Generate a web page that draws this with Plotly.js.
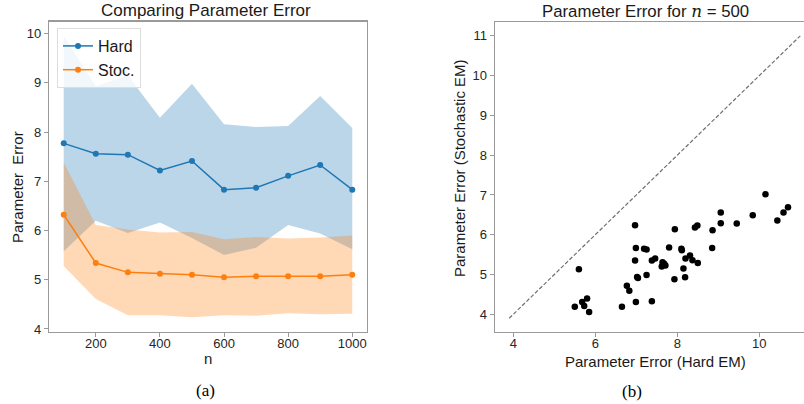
<!DOCTYPE html>
<html>
<head>
<meta charset="utf-8">
<script src="https://cdn.plot.ly/plotly-3.0.1.min.js"></script>
<style>
html,body{margin:0;padding:0;overflow:hidden;background:#fff;width:804px;height:404px;}
#chart{width:830px;height:404px;}
</style>
</head>
<body>
<div id="chart"></div>
<script>
// ---- Panel (a) data ----
const nValues   = [100, 200, 300, 400, 500, 600, 700, 800, 900, 1000];
const hardMean  = [7.77, 7.56, 7.54, 7.22, 7.41, 6.83, 6.87, 7.11, 7.33, 6.83];
const hardUpper = [9.95, 8.93, 9.15, 8.29, 8.98, 8.16, 8.10, 8.12, 8.73, 8.08];
const hardLower = [5.58, 6.20, 5.95, 6.16, 5.85, 5.50, 5.65, 6.11, 5.94, 5.62];
const stocMean  = [6.32, 5.34, 5.15, 5.12, 5.10, 5.05, 5.07, 5.07, 5.07, 5.10];
const stocUpper = [7.38, 6.11, 6.02, 5.96, 5.97, 5.82, 5.87, 5.84, 5.86, 5.90];
const stocLower = [5.28, 4.61, 4.28, 4.28, 4.24, 4.28, 4.27, 4.32, 4.30, 4.31];

// ---- Panel (b) data (n = 500) ----
const hardEM500 = [5.60, 5.50, 5.68, 5.73, 5.80, 5.85, 6.65, 6.77, 6.83, 6.97, 6.99, 6.97,
                   7.02, 7.04, 6.99, 7.19, 7.25, 7.25, 7.38, 7.46, 7.38, 7.62, 7.64, 7.68,
                   7.71, 7.80, 7.94, 7.93, 8.10, 8.11, 8.15, 8.19, 8.20, 8.31, 8.37, 8.43,
                   8.49, 8.50, 8.86, 8.85, 9.06, 9.06, 9.45, 9.84, 10.15, 10.44, 10.59, 10.70];
const stocEM500 = [5.13, 4.19, 4.31, 4.21, 4.40, 4.06, 4.19, 4.72, 4.59, 6.24, 5.67, 5.35,
                   4.94, 4.91, 4.31, 5.65, 5.63, 4.99, 5.35, 5.40, 4.33, 5.20, 5.31, 5.27,
                   5.23, 5.68, 6.14, 4.88, 5.65, 5.61, 5.15, 4.93, 5.40, 5.48, 5.36, 6.18,
                   6.23, 5.29, 6.11, 5.67, 6.56, 6.29, 6.28, 6.49, 7.02, 6.36, 6.56, 6.69];
const diagLine  = [3.9, 11];

const xTicksA = [200, 400, 600, 800, 1000];
const yTicksA = [4, 5, 6, 7, 8, 9, 10];
const xTicksB = [4, 6, 8, 10];
const yTicksB = [4, 5, 6, 7, 8, 9, 10, 11];

const BLUE = '#1f77b4', ORANGE = '#ff7f0e';
const W = 830, H = 404;
const px = v => v / W;
const py = v => 1 - v / H;
const SANS = '"Liberation Sans", Arial, sans-serif';
const SERIF = '"Liberation Serif", "Times New Roman", serif';

const traces = [
  {x: nValues, y: hardLower, mode: 'lines', line: {width: 0, color: BLUE}, showlegend: false, hoverinfo: 'skip', xaxis: 'x', yaxis: 'y'},
  {x: nValues, y: hardUpper, mode: 'lines', line: {width: 0, color: BLUE}, fill: 'tonexty', fillcolor: 'rgba(31,119,180,0.3)', showlegend: false, hoverinfo: 'skip', xaxis: 'x', yaxis: 'y'},
  {x: nValues, y: stocLower, mode: 'lines', line: {width: 0, color: ORANGE}, showlegend: false, hoverinfo: 'skip', xaxis: 'x', yaxis: 'y'},
  {x: nValues, y: stocUpper, mode: 'lines', line: {width: 0, color: ORANGE}, fill: 'tonexty', fillcolor: 'rgba(255,127,14,0.3)', showlegend: false, hoverinfo: 'skip', xaxis: 'x', yaxis: 'y'},
  {x: nValues, y: hardMean, name: 'Hard', mode: 'lines+markers', line: {color: BLUE, width: 1.5}, marker: {color: BLUE, size: 6}, xaxis: 'x', yaxis: 'y'},
  {x: nValues, y: stocMean, name: 'Stoc.', mode: 'lines+markers', line: {color: ORANGE, width: 1.5}, marker: {color: ORANGE, size: 6}, xaxis: 'x', yaxis: 'y'},
  {x: diagLine, y: diagLine, mode: 'lines', line: {color: '#707070', width: 1.2, dash: '4px,2px'}, showlegend: false, xaxis: 'x2', yaxis: 'y2'},
  {x: hardEM500, y: stocEM500, mode: 'markers', marker: {color: '#000', size: 6.5}, showlegend: false, xaxis: 'x2', yaxis: 'y2'}
];

const axisCommon = {
  showgrid: false, zeroline: false, showline: true, linecolor: '#9a9a9a', linewidth: 1.5,
  mirror: true, ticks: 'outside', ticklen: 4, tickcolor: '#9a9a9a', tickwidth: 1,
  tickfont: {family: SANS, size: 13, color: '#262626'}, fixedrange: true
};

const ann = (text, x, y, size, extra) => Object.assign({
  text: text, x: px(x), y: py(y), xref: 'paper', yref: 'paper', showarrow: false,
  xanchor: 'center', yanchor: 'middle', font: {family: SANS, size: size, color: '#1a1a1a'}
}, extra || {});

const layout = {
  width: W, height: H,
  margin: {l: 0, r: 0, t: 0, b: 0},
  paper_bgcolor: '#fff', plot_bgcolor: '#fff',
  showlegend: true,
  legend: {
    x: px(57), y: py(28), xanchor: 'left', yanchor: 'top', traceorder: 'normal',
    bgcolor: 'rgba(255,255,255,0.8)', bordercolor: '#dddddd', borderwidth: 1,
    font: {family: SANS, size: 16, color: '#1a1a1a'}
  },
  xaxis: Object.assign({}, axisCommon, {domain: [px(49.3), px(366.7)], range: [55, 1045], tickvals: xTicksA, anchor: 'y', ticklabelstandoff: -5}),
  yaxis: Object.assign({}, axisCommon, {domain: [py(331.7), py(21.7)], range: [3.945, 10.24], tickvals: yTicksA, anchor: 'x'}),
  xaxis2: Object.assign({}, axisCommon, {domain: [px(495), px(814.9)], range: [3.554, 11.356], tickvals: xTicksB, anchor: 'y2', ticklabelstandoff: -5}),
  yaxis2: Object.assign({}, axisCommon, {domain: [py(331.7), py(22.3)], range: [3.563, 11.34], tickvals: yTicksB, anchor: 'x2'}),
  annotations: [
    ann('Comparing Parameter Error', 205.7, 10.5, 17),
    ann('Parameter Error for <span style="font-family:\'DejaVu Serif\'"><i>n</i></span> = 500', 645, 11, 16.8),
    ann('n', 208, 358, 15),
    ann('Parameter&nbsp;&nbsp;Error', 17, 187, 15, {textangle: -90}),
    ann('Parameter Error (Stochastic EM)', 460, 168, 15, {textangle: -90}),
    ann('Parameter Error (Hard EM)', 655, 361, 15),
    ann('(a)', 205, 390, 17, {font: {family: SERIF, size: 17, color: '#000'}}),
    ann('(b)', 632, 391, 17, {font: {family: SERIF, size: 17, color: '#000'}})
  ]
};

Plotly.newPlot('chart', traces, layout, {displayModeBar: false, staticPlot: true});
</script>
</body>
</html>
